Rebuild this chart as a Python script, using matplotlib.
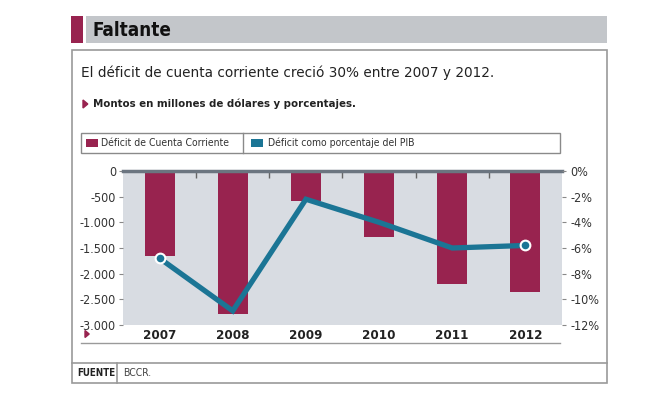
import matplotlib
matplotlib.use('Agg')
import matplotlib.pyplot as plt
import matplotlib.patches as mpatches
from matplotlib.lines import Line2D

plt.rcParams['font.family'] = ['DejaVu Sans']
plt.rcParams['font.stretch'] = 'condensed'

years = ['2007', '2008', '2009', '2010', '2011', '2012']
deficit = [-1650, -2790, -580, -1280, -2200, -2350]
pib = [-6.8, -10.9, -2.2, -4.0, -6.0, -5.8]
left_ticks = [0, -500, -1000, -1500, -2000, -2500, -3000]
left_labels = ['0', '-500', '-1.000', '-1.500', '-2.000', '-2.500', '-3.000']
right_ticks = [0, -2, -4, -6, -8, -10, -12]
right_labels = ['0%', '-2%', '-4%', '-6%', '-8%', '-10%', '-12%']

W, H = 653, 398
maroon = '#98234f'
blue = '#1b7595'

fig = plt.figure(figsize=(W / 100, H / 100), dpi=100)


def fx(x):
    return x / W


def fy(y):
    return 1 - y / H


def rect(x0, y0, x1, y1, **kw):
    fig.patches.append(mpatches.Rectangle((fx(x0), fy(y1)), fx(x1 - x0), (y1 - y0) / H,
                                          transform=fig.transFigure, **kw))


def hline(x0, x1, y, **kw):
    fig.lines.append(Line2D([fx(x0), fx(x1)], [fy(y), fy(y)], transform=fig.transFigure, **kw))


def vline(x, y0, y1, **kw):
    fig.lines.append(Line2D([fx(x), fx(x)], [fy(y0), fy(y1)], transform=fig.transFigure, **kw))


def tri(x, y, s=4):
    fig.patches.append(mpatches.Polygon([(fx(x), fy(y - s)), (fx(x), fy(y + s)), (fx(x + s * 1.2), fy(y))],
                                        closed=True, color=maroon, transform=fig.transFigure))


# header
rect(86, 16, 607, 43, color='#c3c6ca', lw=0)
rect(71, 16, 83, 43, color=maroon, lw=0)
fig.text(fx(93), fy(30), 'Faltante', fontsize=13.5, fontweight='bold', va='center', ha='left',
         color='#111')

# outer box
rect(72, 50, 607, 383, fill=False, edgecolor='#9a9a9a', lw=1.2)
hline(72, 607, 363, color='#9a9a9a', lw=1.2)
vline(117, 363, 383, color='#9a9a9a', lw=1.2)
fig.text(fx(77), fy(373), 'FUENTE', fontsize=7, fontweight='bold', va='center', color='#222')
fig.text(fx(123), fy(373), 'BCCR.', fontsize=7.5, va='center', color='#444')

fig.text(fx(81), fy(73), 'El déficit de cuenta corriente creció 30% entre 2007 y 2012.',
         fontsize=9.8, va='center', fontstretch='normal', color='#222')
tri(83, 104)
fig.text(fx(93), fy(104), 'Montos en millones de dólares y porcentajes.', fontsize=8.2,
         fontweight='bold', va='center', color='#222')

# legend box
rect(81, 133, 560, 153, fill=False, edgecolor='#8a8a8a', lw=1)
vline(243, 133, 153, color='#8a8a8a', lw=1)
rect(86, 139, 98, 147, color=maroon, lw=0)
rect(251, 139, 263, 147, color=blue, lw=0)
fig.text(fx(101), fy(143), 'Déficit de Cuenta Corriente', fontsize=7.5, va='center', color='#333')
fig.text(fx(268), fy(143), 'Déficit como porcentaje del PIB', fontsize=7.5, va='center', color='#333')

# chart
ax = fig.add_axes([fx(123), fy(325), (562 - 123) / W, (325 - 171) / H])
ax.set_facecolor('#d8dce2')
x = list(range(len(years)))
ax.bar(x, deficit, width=0.41, color=maroon, zorder=2)
ax.set_xlim(-0.5, len(years) - 0.5)
ax.set_ylim(-3000, 0)
ax.set_yticks(left_ticks)
ax.set_yticklabels(left_labels)
ax.set_xticks(x)
ax.set_xticklabels(years, fontweight='bold')
ax.set_xticks([i + 0.5 for i in x[:-1]], minor=True)
ax.tick_params(axis='x', which='major', length=0, pad=3, labelsize=9.5, colors='#222')
ax.tick_params(axis='x', which='minor', top=True, bottom=False, direction='in', length=5,
               width=1, color='#666')
ax.tick_params(axis='y', length=3, width=0.8, color='#888', labelsize=9, labelcolor='#333', pad=2)
for s in ['left', 'right', 'bottom']:
    ax.spines[s].set_visible(False)
ax.spines['top'].set_color('#6b7580')
ax.spines['top'].set_linewidth(2.5)

ax2 = ax.twinx()
ax2.plot(x, pib, color=blue, lw=3.8, solid_joinstyle='miter', zorder=3)
ax2.plot([x[0], x[-1]], [pib[0], pib[-1]], 'o', ms=7, mfc=blue, mec='white', mew=1.5, zorder=4)
ax2.set_ylim(-12, 0)
ax2.set_yticks(right_ticks)
ax2.set_yticklabels(right_labels)
ax2.tick_params(axis='y', length=3, width=0.8, color='#888', labelsize=9, labelcolor='#333', pad=3)
for s in ['left', 'right', 'bottom', 'top']:
    ax2.spines[s].set_visible(False)

tri(85, 334, 3.5)
hline(81, 560, 343, color='#9a9a9a', lw=1)

fig.savefig('out.png', dpi=100)
